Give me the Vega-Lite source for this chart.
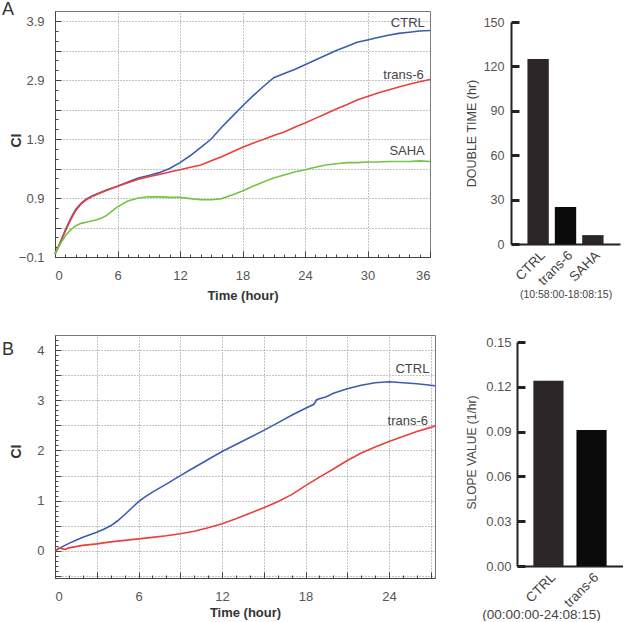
{
  "$schema": "https://vega.github.io/schema/vega-lite/v6.json",
  "padding": {"left": 1, "top": 0, "right": 0, "bottom": 0},
  "config": {
    "font": "Liberation Sans",
    "view": {"stroke": null},
    "axis": {"labelFont": "Liberation Sans", "titleFont": "Liberation Sans", "labelOverlap": false}
  },
  "datasets": {
    "lineA": [
      {"series":"CTRL","t":0,"ci":-0.05},{"series":"CTRL","t":0.5,"ci":0.15},{"series":"CTRL","t":1,"ci":0.36},{"series":"CTRL","t":1.5,"ci":0.55},{"series":"CTRL","t":2,"ci":0.71},{"series":"CTRL","t":2.5,"ci":0.81},{"series":"CTRL","t":3,"ci":0.88},{"series":"CTRL","t":3.5,"ci":0.93},{"series":"CTRL","t":4,"ci":0.97},{"series":"CTRL","t":5,"ci":1.04},{"series":"CTRL","t":6,"ci":1.10},{"series":"CTRL","t":7,"ci":1.17},{"series":"CTRL","t":8,"ci":1.24},{"series":"CTRL","t":9,"ci":1.28},{"series":"CTRL","t":10,"ci":1.33},{"series":"CTRL","t":11,"ci":1.40},{"series":"CTRL","t":12,"ci":1.50},{"series":"CTRL","t":13,"ci":1.62},{"series":"CTRL","t":14,"ci":1.76},{"series":"CTRL","t":15,"ci":1.90},{"series":"CTRL","t":16,"ci":2.10},{"series":"CTRL","t":17,"ci":2.28},{"series":"CTRL","t":18,"ci":2.46},{"series":"CTRL","t":19,"ci":2.63},{"series":"CTRL","t":20,"ci":2.79},{"series":"CTRL","t":21,"ci":2.94},{"series":"CTRL","t":22,"ci":3.01},{"series":"CTRL","t":23,"ci":3.08},{"series":"CTRL","t":24,"ci":3.16},{"series":"CTRL","t":25,"ci":3.24},{"series":"CTRL","t":26,"ci":3.32},{"series":"CTRL","t":27,"ci":3.40},{"series":"CTRL","t":28,"ci":3.47},{"series":"CTRL","t":29,"ci":3.54},{"series":"CTRL","t":30,"ci":3.58},{"series":"CTRL","t":31,"ci":3.62},{"series":"CTRL","t":32,"ci":3.66},{"series":"CTRL","t":33,"ci":3.69},{"series":"CTRL","t":34,"ci":3.71},{"series":"CTRL","t":35,"ci":3.73},{"series":"CTRL","t":36,"ci":3.74},
      {"series":"trans-6","t":0,"ci":-0.05},{"series":"trans-6","t":0.5,"ci":0.14},{"series":"trans-6","t":1,"ci":0.34},{"series":"trans-6","t":1.5,"ci":0.53},{"series":"trans-6","t":2,"ci":0.69},{"series":"trans-6","t":2.5,"ci":0.80},{"series":"trans-6","t":3,"ci":0.87},{"series":"trans-6","t":3.5,"ci":0.92},{"series":"trans-6","t":4,"ci":0.96},{"series":"trans-6","t":5,"ci":1.03},{"series":"trans-6","t":6,"ci":1.10},{"series":"trans-6","t":7,"ci":1.16},{"series":"trans-6","t":8,"ci":1.22},{"series":"trans-6","t":9,"ci":1.26},{"series":"trans-6","t":10,"ci":1.30},{"series":"trans-6","t":11,"ci":1.34},{"series":"trans-6","t":12,"ci":1.38},{"series":"trans-6","t":13,"ci":1.42},{"series":"trans-6","t":14,"ci":1.46},{"series":"trans-6","t":15,"ci":1.53},{"series":"trans-6","t":16,"ci":1.60},{"series":"trans-6","t":17,"ci":1.68},{"series":"trans-6","t":18,"ci":1.76},{"series":"trans-6","t":19,"ci":1.83},{"series":"trans-6","t":20,"ci":1.89},{"series":"trans-6","t":21,"ci":1.96},{"series":"trans-6","t":22,"ci":2.02},{"series":"trans-6","t":23,"ci":2.10},{"series":"trans-6","t":24,"ci":2.17},{"series":"trans-6","t":25,"ci":2.25},{"series":"trans-6","t":26,"ci":2.33},{"series":"trans-6","t":27,"ci":2.41},{"series":"trans-6","t":28,"ci":2.48},{"series":"trans-6","t":29,"ci":2.56},{"series":"trans-6","t":30,"ci":2.62},{"series":"trans-6","t":31,"ci":2.68},{"series":"trans-6","t":32,"ci":2.73},{"series":"trans-6","t":33,"ci":2.78},{"series":"trans-6","t":34,"ci":2.83},{"series":"trans-6","t":35,"ci":2.87},{"series":"trans-6","t":36,"ci":2.91},
      {"series":"SAHA","t":0,"ci":-0.05},{"series":"SAHA","t":0.5,"ci":0.12},{"series":"SAHA","t":1,"ci":0.26},{"series":"SAHA","t":1.5,"ci":0.36},{"series":"SAHA","t":2,"ci":0.43},{"series":"SAHA","t":2.5,"ci":0.47},{"series":"SAHA","t":3,"ci":0.49},{"series":"SAHA","t":3.5,"ci":0.51},{"series":"SAHA","t":4,"ci":0.53},{"series":"SAHA","t":4.5,"ci":0.56},{"series":"SAHA","t":5,"ci":0.61},{"series":"SAHA","t":5.5,"ci":0.68},{"series":"SAHA","t":6,"ci":0.75},{"series":"SAHA","t":7,"ci":0.85},{"series":"SAHA","t":8,"ci":0.90},{"series":"SAHA","t":9,"ci":0.92},{"series":"SAHA","t":10,"ci":0.92},{"series":"SAHA","t":11,"ci":0.91},{"series":"SAHA","t":12,"ci":0.91},{"series":"SAHA","t":13,"ci":0.89},{"series":"SAHA","t":14,"ci":0.87},{"series":"SAHA","t":15,"ci":0.87},{"series":"SAHA","t":16,"ci":0.89},{"series":"SAHA","t":17,"ci":0.95},{"series":"SAHA","t":18,"ci":1.02},{"series":"SAHA","t":19,"ci":1.10},{"series":"SAHA","t":20,"ci":1.17},{"series":"SAHA","t":21,"ci":1.24},{"series":"SAHA","t":22,"ci":1.29},{"series":"SAHA","t":23,"ci":1.34},{"series":"SAHA","t":24,"ci":1.38},{"series":"SAHA","t":25,"ci":1.42},{"series":"SAHA","t":26,"ci":1.46},{"series":"SAHA","t":27,"ci":1.48},{"series":"SAHA","t":28,"ci":1.50},{"series":"SAHA","t":29,"ci":1.50},{"series":"SAHA","t":30,"ci":1.51},{"series":"SAHA","t":31,"ci":1.51},{"series":"SAHA","t":32,"ci":1.52},{"series":"SAHA","t":33,"ci":1.52},{"series":"SAHA","t":34,"ci":1.52},{"series":"SAHA","t":35,"ci":1.53},{"series":"SAHA","t":36,"ci":1.52}
    ],
    "lineB": [
      {"series":"CTRL","t":0,"ci":0.0},{"series":"CTRL","t":0.5,"ci":0.08},{"series":"CTRL","t":1,"ci":0.15},{"series":"CTRL","t":1.5,"ci":0.21},{"series":"CTRL","t":2,"ci":0.27},{"series":"CTRL","t":2.5,"ci":0.32},{"series":"CTRL","t":3,"ci":0.37},{"series":"CTRL","t":3.5,"ci":0.43},{"series":"CTRL","t":4,"ci":0.50},{"series":"CTRL","t":4.5,"ci":0.60},{"series":"CTRL","t":5,"ci":0.72},{"series":"CTRL","t":5.5,"ci":0.85},{"series":"CTRL","t":6,"ci":0.98},{"series":"CTRL","t":6.5,"ci":1.08},{"series":"CTRL","t":7,"ci":1.17},{"series":"CTRL","t":7.5,"ci":1.25},{"series":"CTRL","t":8,"ci":1.33},{"series":"CTRL","t":9,"ci":1.50},{"series":"CTRL","t":10,"ci":1.66},{"series":"CTRL","t":11,"ci":1.82},{"series":"CTRL","t":12,"ci":1.98},{"series":"CTRL","t":13,"ci":2.12},{"series":"CTRL","t":14,"ci":2.26},{"series":"CTRL","t":15,"ci":2.40},{"series":"CTRL","t":16,"ci":2.55},{"series":"CTRL","t":17,"ci":2.70},{"series":"CTRL","t":18,"ci":2.84},{"series":"CTRL","t":18.6,"ci":2.92},{"series":"CTRL","t":18.8,"ci":3.01},{"series":"CTRL","t":19,"ci":3.03},{"series":"CTRL","t":19.5,"ci":3.07},{"series":"CTRL","t":20,"ci":3.14},{"series":"CTRL","t":21,"ci":3.23},{"series":"CTRL","t":22,"ci":3.30},{"series":"CTRL","t":23,"ci":3.35},{"series":"CTRL","t":24,"ci":3.37},{"series":"CTRL","t":25,"ci":3.35},{"series":"CTRL","t":26,"ci":3.33},{"series":"CTRL","t":27,"ci":3.30},{"series":"CTRL","t":27.3,"ci":3.29},
      {"series":"trans-6","t":0,"ci":0.0},{"series":"trans-6","t":0.3,"ci":0.06},{"series":"trans-6","t":0.7,"ci":0.03},{"series":"trans-6","t":1,"ci":0.06},{"series":"trans-6","t":2,"ci":0.11},{"series":"trans-6","t":3,"ci":0.14},{"series":"trans-6","t":4,"ci":0.18},{"series":"trans-6","t":5,"ci":0.21},{"series":"trans-6","t":6,"ci":0.24},{"series":"trans-6","t":7,"ci":0.27},{"series":"trans-6","t":8,"ci":0.30},{"series":"trans-6","t":9,"ci":0.34},{"series":"trans-6","t":10,"ci":0.39},{"series":"trans-6","t":11,"ci":0.46},{"series":"trans-6","t":12,"ci":0.54},{"series":"trans-6","t":13,"ci":0.64},{"series":"trans-6","t":14,"ci":0.75},{"series":"trans-6","t":15,"ci":0.86},{"series":"trans-6","t":16,"ci":0.98},{"series":"trans-6","t":17,"ci":1.12},{"series":"trans-6","t":18,"ci":1.30},{"series":"trans-6","t":19,"ci":1.47},{"series":"trans-6","t":20,"ci":1.63},{"series":"trans-6","t":21,"ci":1.80},{"series":"trans-6","t":22,"ci":1.95},{"series":"trans-6","t":23,"ci":2.07},{"series":"trans-6","t":24,"ci":2.18},{"series":"trans-6","t":25,"ci":2.28},{"series":"trans-6","t":26,"ci":2.38},{"series":"trans-6","t":27,"ci":2.46},{"series":"trans-6","t":27.3,"ci":2.49}
    ],
    "annA": [
      {"label":"CTRL","t":35.5,"ci":3.87},
      {"label":"trans-6","t":35.4,"ci":2.99},
      {"label":"SAHA","t":35.5,"ci":1.70}
    ],
    "annB": [
      {"label":"CTRL","t":26.9,"ci":3.62},
      {"label":"trans-6","t":26.8,"ci":2.59}
    ],
    "barA": [
      {"group":"CTRL","value":125},
      {"group":"trans-6","value":25},
      {"group":"SAHA","value":6}
    ],
    "barB": [
      {"group":"CTRL","value":0.124},
      {"group":"trans-6","value":0.091}
    ]
  },
  "columns": 2,
  "align": "none",
  "bounds": "flush",
  "spacing": {"row": 78, "column": 76},
  "concat": [
    {
      "width": 375,
      "height": 246,
      "view": {"stroke": "#777", "strokeWidth": 1},
      "title": {"text": "A", "anchor": "start", "frame": "group", "dx": -53, "dy": 19, "offset": -3, "baseline": "alphabetic", "fontSize": 18, "fontWeight": "normal", "color": "#333", "font": "Liberation Sans"},
      "resolve": {"axis": {"x": "independent", "y": "independent"}},
      "layer": [
        {
          "data": {"name": "lineA"},
          "mark": {"type": "line", "strokeWidth": 1.6},
          "encoding": {
            "x": {"field": "t", "type": "quantitative",
              "scale": {"domain": [0, 36], "nice": false},
              "axis": {
                "orient": "top", "offset": -246,
                "values": [0, 6, 12, 18, 24, 30, 36],
                "grid": true, "gridDash": [1, 2], "gridColor": "#888", "gridWidth": 1,
                "ticks": true, "tickSize": 6, "tickColor": "#444", "tickWidth": 1,
                "domainColor": "#444",
                "labelFontSize": 13, "labelColor": "#555", "labelPadding": -18, "labelBaseline": "top", "labelFlush": true,
                "title": "Time (hour)", "titleFontSize": 13, "titleFontWeight": "bold", "titleColor": "#333", "titleY": 38, "titleBaseline": "middle"
              }},
            "y": {"field": "ci", "type": "quantitative",
              "scale": {"domain": [-0.1, 4.07], "nice": false, "zero": false},
              "axis": {
                "orient": "right", "offset": -375,
                "values": [-0.1, 0.4, 0.9, 1.4, 1.9, 2.4, 2.9, 3.4, 3.9],
                "labelExpr": "abs(datum.value + 0.1 - round(datum.value + 0.1)) < 0.01 ? format(datum.value, '.1f') : ''",
                "grid": true, "gridDash": [1, 2], "gridColor": "#888", "gridWidth": 1,
                "ticks": true, "tickSize": 6, "tickColor": "#444", "tickWidth": 1,
                "domainColor": "#444",
                "labelFontSize": 13, "labelColor": "#555", "labelPadding": -17, "labelAlign": "right", "labelBaseline": "middle",
                "title": "CI", "titleFontSize": 14, "titleFontWeight": "bold", "titleColor": "#333", "titleAngle": 270, "titleX": -39, "titleY": 129, "titleAlign": "center", "titleBaseline": "middle"
              }},
            "color": {"field": "series", "type": "nominal",
              "scale": {"domain": ["CTRL", "trans-6", "SAHA"], "range": ["#3a5db2", "#e8403a", "#72c545"]},
              "legend": null}
          }
        },
        {
          "data": {"name": "annA"},
          "mark": {"type": "text", "align": "right", "baseline": "middle", "fontSize": 13, "color": "#444"},
          "encoding": {
            "x": {"field": "t", "type": "quantitative",
              "axis": {"orient": "top", "offset": -246, "values": [1,2,3,4,5,7,8,9,10,11,13,14,15,16,17,19,20,21,22,23,25,26,27,28,29,31,32,33,34,35],
                "ticks": true, "tickSize": 3, "tickColor": "#444", "labels": false, "domain": false, "grid": false, "title": null}},
            "y": {"field": "ci", "type": "quantitative",
              "axis": {"orient": "right", "offset": -375, "values": [0.0667,0.2333,0.5667,0.7333,1.0667,1.2333,1.5667,1.7333,2.0667,2.2333,2.5667,2.7333,3.0667,3.2333,3.5667,3.7333],
                "ticks": true, "tickSize": 3, "tickColor": "#444", "labels": false, "domain": false, "grid": false, "title": null}},
            "text": {"field": "label"}
          }
        }
      ]
    },
    {
      "width": 109,
      "height": 246,
      "view": {"stroke": null},
      "data": {"name": "barA"},
      "mark": {"type": "bar"},
      "encoding": {
        "x": {"field": "group", "type": "nominal", "sort": null,
          "scale": {"paddingInner": 0.22, "paddingOuter": 0.6},
          "axis": {"offset": -13, "labelAngle": -45, "labelFontSize": 13.5, "labelColor": "#444", "ticks": false, "domainColor": "#222", "domainWidth": 2, "labelPadding": 4,
            "title": "(10:58:00-18:08:15)", "titleFontSize": 10.5, "titleFontWeight": "normal", "titleColor": "#444", "titleY": 50, "titleBaseline": "middle"}},
        "y": {"field": "value", "type": "quantitative",
          "scale": {"domain": [0, 150], "range": [233, 11], "nice": false},
          "axis": {"orient": "right", "offset": -109, "values": [0, 30, 60, 90, 120, 150], "grid": false,
            "ticks": true, "tickSize": 8, "tickWidth": 3, "tickColor": "#222", "tickOpacity": 1, "domainColor": "#222", "domainWidth": 2,
            "labelFontSize": 12.5, "labelColor": "#555", "labelPadding": -15, "labelAlign": "right", "labelBaseline": "middle",
            "title": "DOUBLE TIME (hr)", "titleFontSize": 12.5, "titleFontWeight": "normal", "titleColor": "#444", "titleAngle": 270, "titleX": -40, "titleY": 122, "titleAlign": "center", "titleBaseline": "middle"}},
        "color": {"condition": {"test": "datum.group === 'trans-6'", "value": "#0c0b0b"}, "value": "#2c2628"}
      }
    },
    {
      "width": 380,
      "height": 243,
      "view": {"stroke": "#777", "strokeWidth": 1},
      "title": {"text": "B", "anchor": "start", "frame": "group", "dx": -53, "dy": 19, "offset": -19, "baseline": "alphabetic", "fontSize": 18, "fontWeight": "normal", "color": "#333", "font": "Liberation Sans"},
      "resolve": {"axis": {"x": "independent", "y": "independent"}},
      "layer": [
        {
          "data": {"name": "lineB"},
          "mark": {"type": "line", "strokeWidth": 1.6},
          "encoding": {
            "x": {"field": "t", "type": "quantitative",
              "scale": {"domain": [0, 27.3], "nice": false},
              "axis": {
                "orient": "top", "offset": -243,
                "values": [0, 3, 6, 9, 12, 15, 18, 21, 24, 27],
                "labelExpr": "datum.value % 6 === 0 ? datum.label : ''",
                "grid": true, "gridDash": [1, 2], "gridColor": "#888", "gridWidth": 1,
                "ticks": true, "tickSize": 6, "tickColor": "#444", "tickWidth": 1,
                "domainColor": "#444",
                "labelFontSize": 13, "labelColor": "#555", "labelPadding": -18, "labelBaseline": "top", "labelFlush": true,
                "title": "Time (hour)", "titleFontSize": 13, "titleFontWeight": "bold", "titleColor": "#333", "titleY": 34, "titleBaseline": "middle"
              }},
            "y": {"field": "ci", "type": "quantitative",
              "scale": {"domain": [-0.54, 4.3], "nice": false, "zero": false},
              "axis": {
                "orient": "right", "offset": -380,
                "values": [-0.5, 0, 0.5, 1, 1.5, 2, 2.5, 3, 3.5, 4],
                "labelExpr": "abs(datum.value - round(datum.value)) < 0.01 ? format(datum.value, 'd') : ''",
                "grid": true, "gridDash": [1, 2], "gridColor": "#888", "gridWidth": 1,
                "ticks": true, "tickSize": 6, "tickColor": "#444", "tickWidth": 1,
                "domainColor": "#444",
                "labelFontSize": 13, "labelColor": "#555", "labelPadding": -17, "labelAlign": "right", "labelBaseline": "middle",
                "title": "CI", "titleFontSize": 14, "titleFontWeight": "bold", "titleColor": "#333", "titleAngle": 270, "titleX": -39, "titleY": 116, "titleAlign": "center", "titleBaseline": "middle"
              }},
            "color": {"field": "series", "type": "nominal",
              "scale": {"domain": ["CTRL", "trans-6", "SAHA"], "range": ["#3a5db2", "#e8403a", "#72c545"]},
              "legend": null}
          }
        },
        {
          "data": {"name": "annB"},
          "mark": {"type": "text", "align": "right", "baseline": "middle", "fontSize": 13, "color": "#444"},
          "encoding": {
            "x": {"field": "t", "type": "quantitative",
              "axis": {"orient": "top", "offset": -243, "values": [1,2,4,5,7,8,10,11,13,14,16,17,19,20,22,23,25,26],
                "ticks": true, "tickSize": 3, "tickColor": "#444", "labels": false, "domain": false, "grid": false, "title": null}},
            "y": {"field": "ci", "type": "quantitative",
              "axis": {"orient": "right", "offset": -380, "values": [-0.4,-0.3,-0.2,-0.1,0.1,0.2,0.3,0.4,0.6,0.7,0.8,0.9,1.1,1.2,1.3,1.4,1.6,1.7,1.8,1.9,2.1,2.2,2.3,2.4,2.6,2.7,2.8,2.9,3.1,3.2,3.3,3.4,3.6,3.7,3.8,3.9,4.1,4.2],
                "ticks": true, "tickSize": 3, "tickColor": "#444", "labels": false, "domain": false, "grid": false, "title": null}},
            "text": {"field": "label"}
          }
        }
      ]
    },
    {
      "width": 112,
      "height": 243,
      "view": {"stroke": null},
      "data": {"name": "barB"},
      "mark": {"type": "bar"},
      "encoding": {
        "x": {"field": "group", "type": "nominal", "sort": null,
          "scale": {"paddingInner": 0.3, "paddingOuter": 0.38, "range": [6, 112]},
          "axis": {"offset": -12, "labelAngle": -45, "labelFontSize": 13.5, "labelColor": "#444", "ticks": false, "domainColor": "#222", "domainWidth": 2, "labelPadding": 4,
            "title": "(00:00:00-24:08:15)", "titleFontSize": 13.5, "titleFontWeight": "normal", "titleColor": "#444", "titleX": 30, "titleY": 48, "titleBaseline": "middle"}},
        "y": {"field": "value", "type": "quantitative",
          "scale": {"domain": [0, 0.15], "range": [231, 7], "nice": false},
          "axis": {"orient": "right", "offset": -106, "values": [0, 0.03, 0.06, 0.09, 0.12, 0.15], "format": ".2f", "grid": false,
            "ticks": true, "tickSize": 8, "tickWidth": 3, "tickColor": "#222", "tickOpacity": 1, "domainColor": "#222", "domainWidth": 2,
            "labelFontSize": 13, "labelColor": "#555", "labelPadding": -14, "labelAlign": "right", "labelBaseline": "middle",
            "title": "SLOPE VALUE (1/hr)", "titleFontSize": 12, "titleFontWeight": "normal", "titleColor": "#444", "titleAngle": 270, "titleX": -46, "titleY": 117, "titleAlign": "center", "titleBaseline": "middle"}},
        "color": {"condition": {"test": "datum.group === 'trans-6'", "value": "#0c0b0b"}, "value": "#2c2628"}
      }
    }
  ]
}
